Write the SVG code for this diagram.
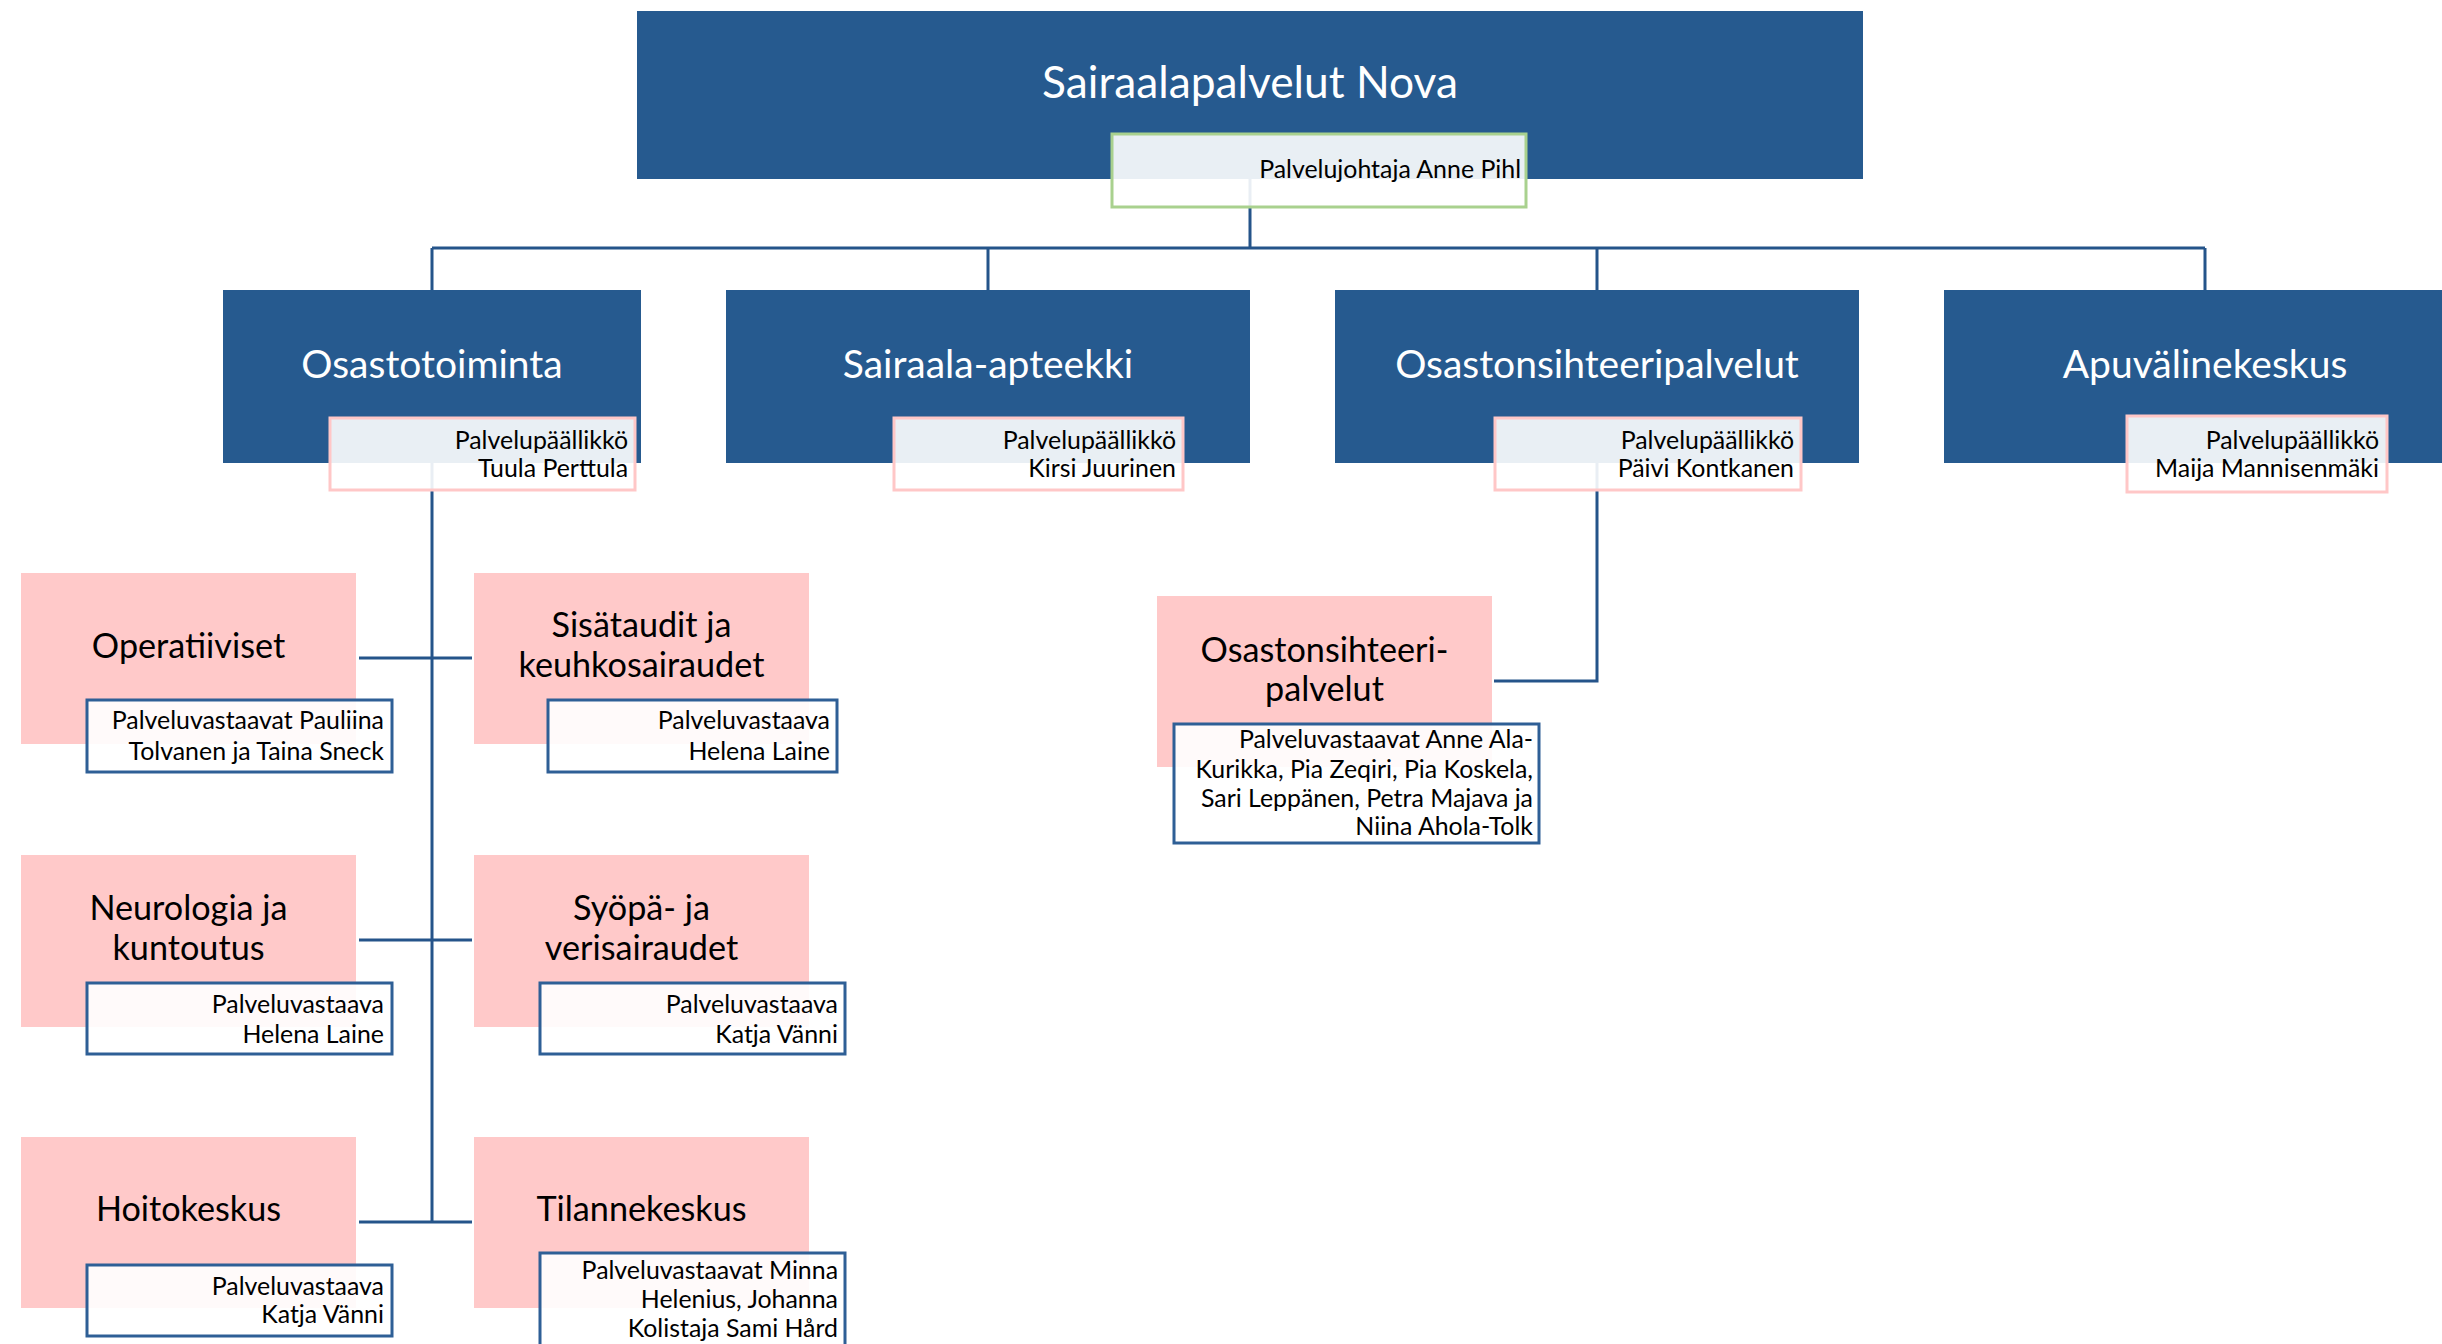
<svg xmlns="http://www.w3.org/2000/svg" width="2442" height="1344" viewBox="0 0 2442 1344">
<style>
text{font-family:Lato,"Liberation Sans",sans-serif}
.bl{fill:#265A8F}
.pk{fill:#FFC9C9}
.t1{fill:#fff;font-size:44.3px;text-anchor:middle}
.t2{fill:#fff;font-size:39px;text-anchor:middle}
.t3{fill:#000;font-size:34.2px;text-anchor:middle}
.lb{fill:#000;font-size:24.9px;text-anchor:end}
.lg{fill:#fff;fill-opacity:.9;stroke:#A9D18E;stroke-width:3}
.lp{fill:#fff;fill-opacity:.9;stroke:#FFC7C7;stroke-width:3}
.lu{fill:#fff;fill-opacity:.9;stroke:#2E5F96;stroke-width:3}
.cn{fill:none;stroke:#25548A;stroke-width:3}
</style>
<rect width="2442" height="1344" fill="#fff"/>
<g id="connectors">
<path class="cn" d="M1250,179V248M432,248H2205M432,248V290M988,248V290M1597,248V290M2205,248V290"/>
<path class="cn" d="M432,463V1222M359,658H472M359,940H472M359,1222H472"/>
<path class="cn" d="M1597,463V681H1494"/>
</g>
<g id="n-nova">
<rect class="bl" x="637" y="11" width="1226" height="168"/>
<text class="t1" x="1250" y="98">Sairaalapalvelut Nova</text>
<rect class="lg" x="1112" y="134" width="414" height="73"/>
<text class="lb" x="1521" y="178">Palvelujohtaja Anne Pihl</text>
</g>
<g id="n-osastotoiminta">
<rect class="bl" x="223" y="290" width="418" height="173"/>
<text class="t2" x="432" y="378">Osastotoiminta</text>
<rect class="lp" x="330" y="418" width="305" height="72"/>
<text class="lb" x="628" y="449">Palvelupäällikkö</text>
<text class="lb" x="628" y="477">Tuula Perttula</text>
</g>
<g id="n-apteekki">
<rect class="bl" x="726" y="290" width="524" height="173"/>
<text class="t2" x="988" y="378">Sairaala-apteekki</text>
<rect class="lp" x="894" y="418" width="289" height="72"/>
<text class="lb" x="1176" y="449">Palvelupäällikkö</text>
<text class="lb" x="1176" y="477">Kirsi Juurinen</text>
</g>
<g id="n-osastonsihteeripalvelut">
<rect class="bl" x="1335" y="290" width="524" height="173"/>
<text class="t2" x="1597" y="378">Osastonsihteeripalvelut</text>
<rect class="lp" x="1495" y="418" width="306" height="72"/>
<text class="lb" x="1794" y="449">Palvelupäällikkö</text>
<text class="lb" x="1794" y="477">Päivi Kontkanen</text>
</g>
<g id="n-apuvaline">
<rect class="bl" x="1944" y="290" width="524" height="173"/>
<text class="t2" x="2205" y="378">Apuvälinekeskus</text>
<rect class="lp" x="2127" y="416" width="260" height="76"/>
<text class="lb" x="2379" y="449">Palvelupäällikkö</text>
<text class="lb" x="2379" y="477">Maija Mannisenmäki</text>
</g>
<g id="n-operatiiviset">
<rect class="pk" x="21" y="573" width="335" height="171"/>
<text class="t3" x="188.5" y="658">Operatiiviset</text>
<rect class="lu" x="87" y="700" width="305" height="72"/>
<text class="lb" x="384" y="729">Palveluvastaavat Pauliina</text>
<text class="lb" x="384" y="760">Tolvanen ja Taina Sneck</text>
</g>
<g id="n-sisataudit">
<rect class="pk" x="474" y="573" width="335" height="171"/>
<text class="t3" x="641.5" y="637">Sisätaudit ja</text>
<text class="t3" x="641.5" y="677">keuhkosairaudet</text>
<rect class="lu" x="548" y="700" width="289" height="72"/>
<text class="lb" x="830" y="729">Palveluvastaava</text>
<text class="lb" x="830" y="760">Helena Laine</text>
</g>
<g id="n-neurologia">
<rect class="pk" x="21" y="855" width="335" height="172"/>
<text class="t3" x="188.5" y="920">Neurologia ja</text>
<text class="t3" x="188.5" y="960">kuntoutus</text>
<rect class="lu" x="87" y="983" width="305" height="71"/>
<text class="lb" x="384" y="1013">Palveluvastaava</text>
<text class="lb" x="384" y="1043">Helena Laine</text>
</g>
<g id="n-syopa">
<rect class="pk" x="474" y="855" width="335" height="172"/>
<text class="t3" x="641.5" y="920">Syöpä- ja</text>
<text class="t3" x="641.5" y="960">verisairaudet</text>
<rect class="lu" x="540" y="983" width="305" height="71"/>
<text class="lb" x="838" y="1013">Palveluvastaava</text>
<text class="lb" x="838" y="1043">Katja Vänni</text>
</g>
<g id="n-hoitokeskus">
<rect class="pk" x="21" y="1137" width="335" height="171"/>
<text class="t3" x="188.5" y="1221">Hoitokeskus</text>
<rect class="lu" x="87" y="1265" width="305" height="71"/>
<text class="lb" x="384" y="1295">Palveluvastaava</text>
<text class="lb" x="384" y="1323">Katja Vänni</text>
</g>
<g id="n-tilannekeskus">
<rect class="pk" x="474" y="1137" width="335" height="171"/>
<text class="t3" x="641.5" y="1221">Tilannekeskus</text>
<rect class="lu" x="540" y="1253" width="305" height="120"/>
<text class="lb" x="838" y="1279">Palveluvastaavat Minna</text>
<text class="lb" x="838" y="1308">Helenius, Johanna</text>
<text class="lb" x="838" y="1337">Kolistaja Sami Hård</text>
</g>
<g id="n-osastonsihteeri">
<rect class="pk" x="1157" y="596" width="335" height="171"/>
<text class="t3" x="1324.5" y="662">Osastonsihteeri-</text>
<text class="t3" x="1324.5" y="701">palvelut</text>
<rect class="lu" x="1174" y="724" width="365" height="119"/>
<text class="lb" x="1533" y="748">Palveluvastaavat Anne Ala-</text>
<text class="lb" x="1533" y="778">Kurikka, Pia Zeqiri, Pia Koskela,</text>
<text class="lb" x="1533" y="807">Sari Leppänen, Petra Majava ja</text>
<text class="lb" x="1533" y="835">Niina Ahola-Tolk</text>
</g>
</svg>
